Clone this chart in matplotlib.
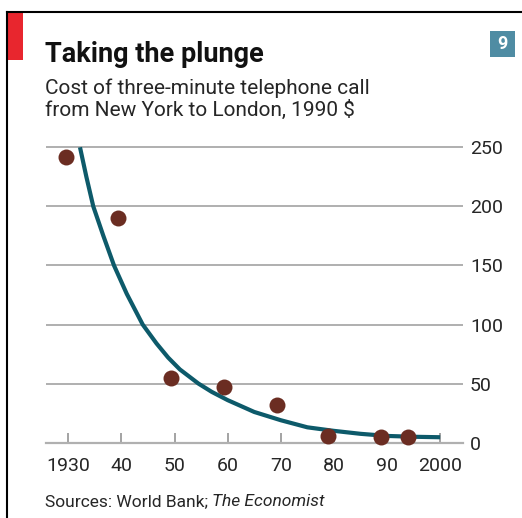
import matplotlib
matplotlib.use('Agg')
import matplotlib.pyplot as plt
from matplotlib.patches import Rectangle
from matplotlib.lines import Line2D

W, H = 522, 518

# data
years = [1929.5, 1939.4, 1949.4, 1959.3, 1969.3, 1978.8, 1988.8, 1994.0]
cost = [242, 190, 55, 47, 32, 6, 5, 5]

# fitted trend line, as drawn
trend_years = [1932.2, 1933.4, 1934.7, 1936.6, 1938.6, 1941.0, 1944.0, 1946.6,
               1948.8, 1951.0, 1954.5, 1957.0, 1960, 1965, 1970, 1975, 1980,
               1985, 1990, 1995, 2000]
trend_cost = [250, 225, 200, 175, 150, 126, 100, 84,
              72, 62, 50, 43, 36, 26, 19, 13, 10,
              7.5, 5.7, 5, 4.6]

x_ticks = [1930, 1940, 1950, 1960, 1970, 1980, 1990, 2000]
x_labels = ['1930', '40', '50', '60', '70', '80', '90', '2000']
y_ticks = [0, 50, 100, 150, 200, 250]

TEXT = '#262626'
FONT = 'Roboto'
plt.rcParams['font.family'] = [FONT, 'DejaVu Sans']


def fx(px):
    return px / W


def fy(py):
    return 1 - py / H


fig = plt.figure(figsize=(W / 100, H / 100), dpi=100)
fig.patch.set_facecolor('white')

ax = fig.add_axes([fx(46), fy(450), 417 / W, 315 / H])
ax.set_xlim(1925.8, 2004.3)
ax.set_ylim(-6.2, 260.4)

ax.plot(trend_years, trend_cost, color='#0d5a6a', lw=3.0,
        solid_capstyle='butt', solid_joinstyle='round', zorder=3, clip_on=False)
ax.plot(years, cost, 'o', color='#6b2d22', ms=11.5, mec='none', zorder=4,
        clip_on=False)

ax.set_yticks(y_ticks)
ax.yaxis.tick_right()
ax.tick_params(axis='y', length=0, pad=5, labelsize=14, labelcolor=TEXT)
ax.grid(axis='y', color='#9a9a9a', lw=1.1)
ax.set_axisbelow(True)

ax.set_xticks(x_ticks, x_labels)
ax.tick_params(axis='x', direction='in', length=7, width=1.1, color='#8a8a8a',
               pad=10, labelsize=14, labelcolor=TEXT)

for side in ['top', 'left', 'right']:
    ax.spines[side].set_visible(False)
ax.spines['bottom'].set_position(('data', 0))
ax.spines['bottom'].set_color('#b0b0b0')
ax.spines['bottom'].set_linewidth(1.6)

# frame, red tag and number badge
fig.add_artist(Line2D([fx(7), 1], [fy(12), fy(12)], transform=fig.transFigure,
                      color='black', lw=1.5))
fig.add_artist(Line2D([fx(7), fx(7)], [fy(12), 0], transform=fig.transFigure,
                      color='black', lw=1.5))
fig.add_artist(Rectangle((fx(8), fy(60)), 15 / W, 48 / H,
                         transform=fig.transFigure, color='#e8262e', lw=0))
fig.add_artist(Rectangle((fx(490), fy(57)), 25 / W, 26 / H,
                         transform=fig.transFigure, color='#4f8ca3', lw=0))
fig.text(fx(502.5), fy(44), '9', color='white', fontsize=13, fontweight='bold',
         ha='center', va='center')

fig.text(fx(45), fy(61.5), 'Taking the plunge', fontsize=19.5, fontweight='bold',
         color='#111111', va='baseline')
fig.text(fx(45), fy(94), 'Cost of three-minute telephone call',
         fontsize=15, color=TEXT, va='baseline')
fig.text(fx(45), fy(115.5), 'from New York to London, 1990 $',
         fontsize=15, color=TEXT, va='baseline')

src = fig.text(fx(45), fy(506.5), 'Sources: World Bank; ', fontsize=12.5,
               color=TEXT, va='baseline')
r = fig.canvas.get_renderer()
bb = src.get_window_extent(renderer=r)
fig.text(bb.x1 / W, fy(506.5), 'The Economist', fontsize=12.5, style='italic',
         color=TEXT, va='baseline')

fig.savefig('out.png', dpi=100)
